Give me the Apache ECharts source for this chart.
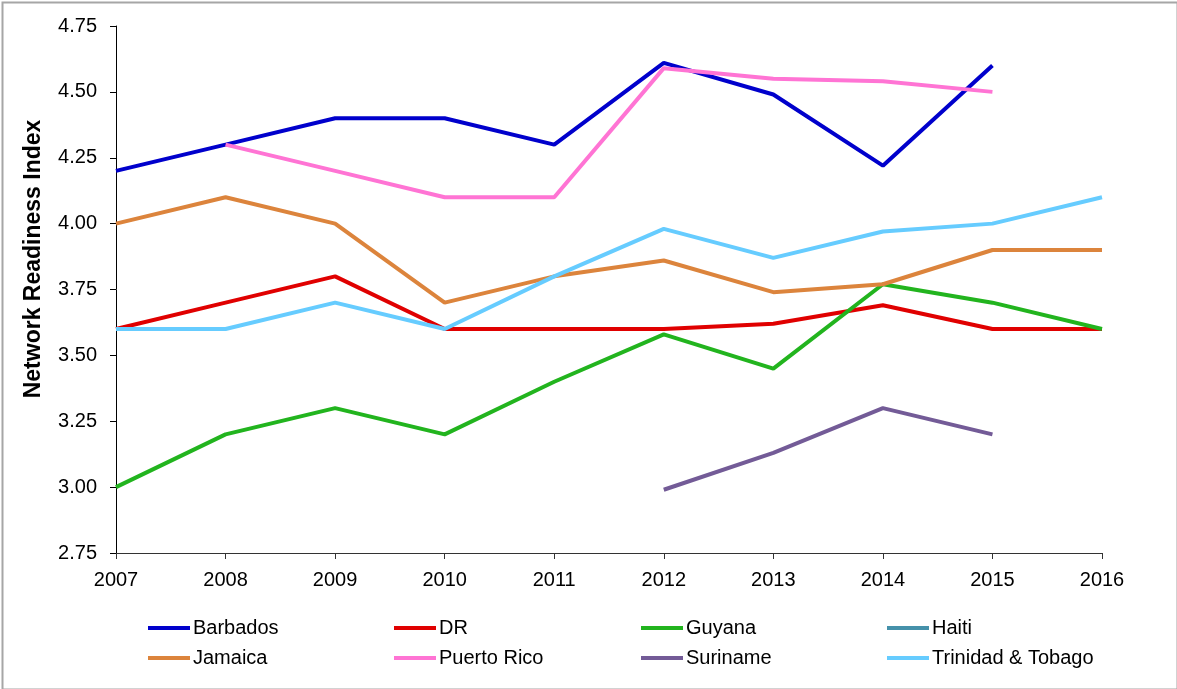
<!DOCTYPE html>
<html>
<head>
<meta charset="utf-8">
<script src="https://cdn.jsdelivr.net/npm/echarts@6/dist/echarts.min.js"></script>
<style>
html,body{margin:0;padding:0;background:#fff;}
#chart{width:1177px;height:689px;}
</style>
</head>
<body>
<div id="chart"></div>
<script>
const years = ['2007','2008','2009','2010','2011','2012','2013','2014','2015','2016'];
const yTicks = [2.75, 3.00, 3.25, 3.50, 3.75, 4.00, 4.25, 4.50, 4.75];
const countries = ['Barbados','DR','Guyana','Haiti','Jamaica','Puerto Rico','Suriname','Trinidad & Tobago'];
const barbados  = [4.20, 4.30, 4.40, 4.40, 4.30, 4.61, 4.49, 4.22, 4.60, null];
const dr        = [3.60, 3.70, 3.80, 3.60, 3.60, 3.60, 3.62, 3.69, 3.60, 3.60];
const guyana    = [3.00, 3.20, 3.30, 3.20, 3.40, 3.58, 3.45, 3.77, 3.70, 3.60];
const haiti     = [null, null, null, null, null, null, null, null, null, null];
const jamaica   = [4.00, 4.10, 4.00, 3.70, 3.80, 3.86, 3.74, 3.77, 3.90, 3.90];
const puertoRico= [null, 4.30, 4.20, 4.10, 4.10, 4.59, 4.55, 4.54, 4.50, null];
const suriname  = [null, null, null, null, null, 2.99, 3.13, 3.30, 3.20, null];
const trinidad  = [3.60, 3.60, 3.70, 3.60, 3.80, 3.98, 3.87, 3.97, 4.00, 4.10];
const seriesData = [barbados, dr, guyana, haiti, jamaica, puertoRico, suriname, trinidad];
const colors = ['#0000CC','#E00000','#22B41E','#4591AA','#DC843C','#FF74D4','#735B97','#66CCFF'];

const chart = echarts.init(document.getElementById('chart'));
const font = '"Liberation Sans", Arial, sans-serif';
const legendCols = [148, 394, 641, 887];
const legends = legendCols.map((x, i) => ({
  orient: 'vertical',
  left: x,
  top: 618,
  padding: 0,
  icon: 'rect',
  itemWidth: 42,
  itemHeight: 4,
  itemGap: 10,
  data: [countries[i], countries[i + 4]],
  textStyle: { fontFamily: font, fontSize: 20, color: '#000', lineHeight: 20, padding: [0,0,0,-2] }
}));

chart.setOption({
  animation: false,
  backgroundColor: '#fff',
  color: colors,
  grid: { left: 116, right: 75, top: 26, bottom: 136, containLabel: false },
  legend: legends,
  graphic: [
    { type: 'rect', left: 0, top: 0, shape: { x: 1, y: 1, width: 1175, height: 687 },
      style: { fill: 'none', stroke: '#A6A6A6', lineWidth: 2 }, silent: true },
    { type: 'text', x: 34, y: 259, rotation: Math.PI / 2,
      style: { text: 'Network Readiness Index', font: 'bold 23px ' + font, fill: '#000',
               textAlign: 'center', textVerticalAlign: 'middle' } }
  ],
  xAxis: {
    type: 'category',
    data: years,
    boundaryGap: false,
    axisLine: { lineStyle: { color: '#333', width: 1 } },
    axisTick: { show: true, length: 6, alignWithLabel: true, lineStyle: { color: '#333' } },
    axisLabel: { fontFamily: font, fontSize: 20, color: '#000', margin: 17 },
    splitLine: { show: false }
  },
  yAxis: {
    type: 'value',
    min: yTicks[0],
    max: yTicks[yTicks.length - 1],
    interval: 0.25,
    axisLine: { show: true, lineStyle: { color: '#000', width: 1 } },
    axisTick: { show: true, length: 6, lineStyle: { color: '#000' } },
    axisLabel: { fontFamily: font, fontSize: 20, color: '#000', margin: 19,
                 formatter: v => v.toFixed(2) },
    splitLine: { show: false }
  },
  series: countries.map((name, i) => ({
    name: name,
    type: 'line',
    data: seriesData[i],
    symbol: 'none',
    connectNulls: false,
    lineStyle: { width: 4, color: colors[i] },
    itemStyle: { color: colors[i] }
  }))
});
</script>
</body>
</html>
